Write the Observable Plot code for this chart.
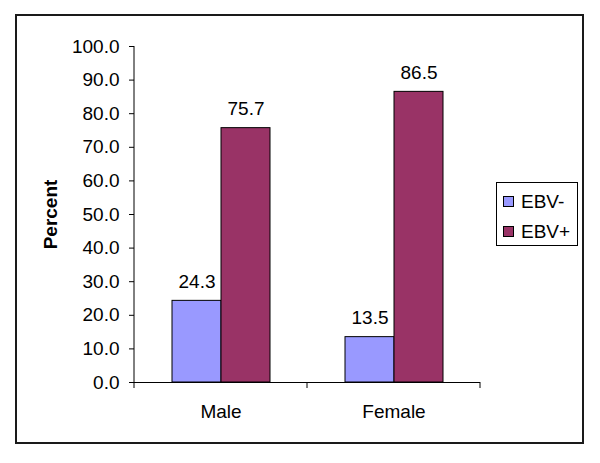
<!DOCTYPE html>
<html>
<head>
<meta charset="utf-8">
<script src="https://cdn.jsdelivr.net/npm/d3@7"></script>
<script src="https://cdn.jsdelivr.net/npm/@observablehq/plot@0.6"></script>
<style>
  html, body { margin: 0; padding: 0; background: #fff; }
  #wrap { position: relative; width: 600px; height: 463px; overflow: hidden;
          font-family: "Liberation Sans", Arial, sans-serif; }
  #border { position: absolute; left: 15px; top: 14px; width: 569px; height: 430px;
            box-sizing: border-box; border: 2px solid #1a1a1a; }
  #chart { position: absolute; left: 0; top: 0; }
  #legend { position: absolute; left: 496px; top: 182px; width: 82px; height: 64px;
            box-sizing: border-box; border: 1px solid #000; background: #fff; }
  .item { position: absolute; left: 0; height: 22px; font-size: 19px; color: #000; }
  .sw { position: absolute; left: 6px; width: 11px; height: 11px; box-sizing: border-box;
        border: 1px solid #000; }
  .lab { position: absolute; left: 24px; white-space: nowrap; line-height: 1; }
</style>
</head>
<body>
<div id="wrap">
  <div id="border"></div>
  <div id="chart"></div>
  <div id="legend"></div>
</div>
<script>
const categories = ["Male", "Female"];
const series = ["EBV-", "EBV+"];
const ebvNeg = [24.3, 13.5];
const ebvPos = [75.7, 86.5];
const colors = ["#9999FF", "#993366"];
const yTicks = [0, 10, 20, 30, 40, 50, 60, 70, 80, 90, 100];
const yLabel = "Percent";

const data = [];
categories.forEach((c, i) => {
  data.push({sex: c, series: series[0], value: ebvNeg[i]});
  data.push({sex: c, series: series[1], value: ebvPos[i]});
});

const fmt = d3.format(".1f");

const plot = Plot.plot({
  width: 600,
  height: 463,
  marginLeft: 134,
  marginRight: 120,
  marginTop: 46,
  marginBottom: 81,
  style: {fontFamily: '"Liberation Sans", Arial, sans-serif', fontSize: "19px", color: "#000", background: "transparent", overflow: "visible"},
  fx: {domain: categories, padding: 0, label: null},
  x: {domain: series, paddingInner: 0, paddingOuter: 0.75, axis: null},
  y: {domain: [0, 100], label: null},
  color: {domain: series, range: colors},
  marks: [
    Plot.barY(data, {fx: "sex", x: "series", y: "value", fill: "series", stroke: "#000", strokeWidth: 1}),
    Plot.ruleY([0], {stroke: "#000", strokeWidth: 1}),
    Plot.text(data, {fx: "sex", x: "series", y: "value", text: d => fmt(d.value), lineAnchor: "bottom", dy: -13, fill: "#000"}),
    Plot.axisY({ticks: yTicks, tickFormat: fmt, tickSize: 5, tickPadding: 10, label: null, stroke: "#000"}),
    Plot.axisY({ticks: [], label: yLabel, labelAnchor: "center", labelArrow: "none", labelOffset: 91, fontWeight: "bold"}),
    Plot.axisFx({anchor: "bottom", tickSize: 0, tickPadding: 22, label: null})
  ]
});

document.getElementById("chart").appendChild(plot);

// y-axis line and category boundary ticks, positioned through Plot's own scales
const fxS = plot.scale("fx");
const yS = plot.scale("y");
const svg = d3.select(plot);
const x0 = fxS.apply(categories[0]);
const y0 = yS.apply(0);
svg.append("line")
  .attr("x1", x0).attr("x2", x0)
  .attr("y1", yS.apply(100)).attr("y2", y0)
  .attr("stroke", "#000").attr("stroke-width", 1);
const bounds = [];
categories.forEach(c => { bounds.push(fxS.apply(c)); bounds.push(fxS.apply(c) + fxS.bandwidth); });
Array.from(new Set(bounds.map(b => Math.round(b * 100) / 100))).forEach(b => {
  svg.append("line")
    .attr("x1", b).attr("x2", b)
    .attr("y1", y0).attr("y2", y0 + 6)
    .attr("stroke", "#000").attr("stroke-width", 1);
});

// legend
const legend = document.getElementById("legend");
series.forEach((s, i) => {
  const item = document.createElement("div");
  item.className = "item";
  item.style.top = (9 + i * 30) + "px";
  const sw = document.createElement("div");
  sw.className = "sw";
  sw.style.top = "4px";
  sw.style.background = colors[i];
  const lab = document.createElement("div");
  lab.className = "lab";
  lab.style.top = "0px";
  lab.textContent = s;
  item.appendChild(sw);
  item.appendChild(lab);
  legend.appendChild(item);
});
</script>
</body>
</html>
